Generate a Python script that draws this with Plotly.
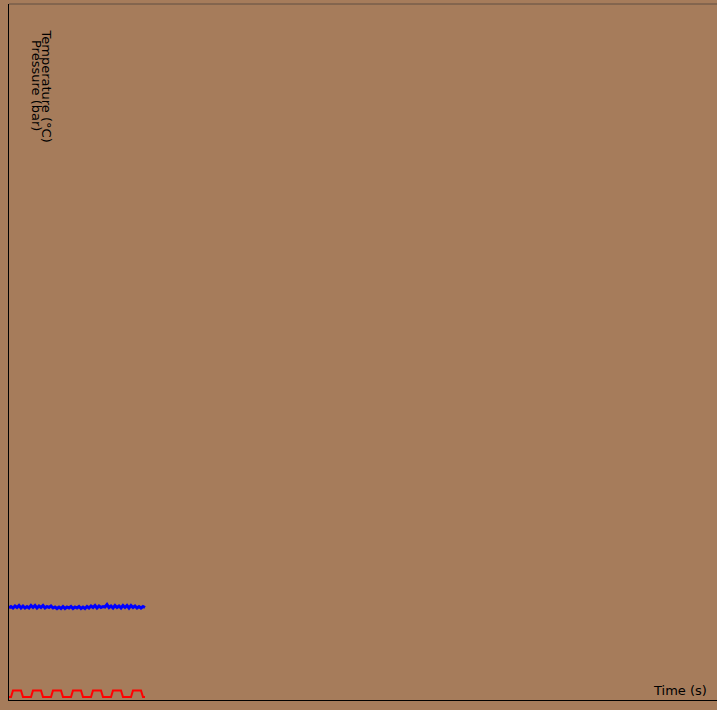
import plotly.graph_objects as go

time_s = [0.0, 0.1, 0.2, 0.3, 0.4, 0.5, 0.6, 0.7, 0.8, 0.9,
          1.0, 1.1, 1.2, 1.3, 1.4, 1.5, 1.6, 1.7, 1.8, 1.9,
          2.0, 2.1, 2.2, 2.3, 2.4, 2.5, 2.6, 2.7, 2.8, 2.9,
          3.0, 3.1, 3.2, 3.3, 3.4, 3.5, 3.6, 3.7, 3.8, 3.9,
          4.0, 4.1, 4.2, 4.3, 4.4, 4.5, 4.6, 4.7, 4.8, 4.9,
          5.0, 5.1, 5.2, 5.3, 5.4, 5.5, 5.6, 5.7, 5.8, 5.9,
          6.0, 6.1, 6.2, 6.3, 6.4, 6.5, 6.6, 6.7, 6.8]

pressure_bar = [9.20, 9.35, 9.20, 9.40, 9.25, 9.45, 9.20, 9.40, 9.20, 9.35,
                9.20, 9.45, 9.25, 9.45, 9.20, 9.40, 9.25, 9.45, 9.20, 9.35,
                9.25, 9.40, 9.20, 9.30, 9.15, 9.30, 9.15, 9.35, 9.15, 9.30,
                9.20, 9.35, 9.15, 9.30, 9.20, 9.35, 9.15, 9.30, 9.15, 9.35,
                9.20, 9.40, 9.25, 9.45, 9.20, 9.40, 9.25, 9.35, 9.30, 9.55,
                9.25, 9.40, 9.20, 9.45, 9.25, 9.40, 9.20, 9.45, 9.25, 9.45,
                9.20, 9.45, 9.25, 9.40, 9.20, 9.35, 9.20, 9.35, 9.25]

temperature_c = [0.30, 0.30, 0.95, 0.95, 0.95, 0.95, 0.95, 0.30, 0.30, 0.30,
                 0.30, 0.30, 0.95, 0.95, 0.95, 0.95, 0.95, 0.30, 0.30, 0.30,
                 0.30, 0.30, 0.95, 0.95, 0.95, 0.95, 0.95, 0.30, 0.30, 0.30,
                 0.30, 0.30, 0.95, 0.95, 0.95, 0.95, 0.95, 0.30, 0.30, 0.30,
                 0.30, 0.30, 0.95, 0.95, 0.95, 0.95, 0.95, 0.30, 0.30, 0.30,
                 0.30, 0.30, 0.95, 0.95, 0.95, 0.95, 0.95, 0.30, 0.30, 0.30,
                 0.30, 0.30, 0.95, 0.95, 0.95, 0.95, 0.95, 0.30, 0.30]

BG = "#a67c5b"
FONT = "DejaVu Sans"

fig = go.Figure()
fig.add_trace(go.Scatter(x=time_s, y=pressure_bar, mode="lines",
                         line=dict(color="#0000ff", width=3), name="Pressure (bar)",
                         showlegend=False))
fig.add_trace(go.Scatter(x=time_s, y=temperature_c, mode="lines",
                         line=dict(color="#ff0000", width=2), name="Temperature (°C)",
                         showlegend=False))

fig.update_layout(
    width=717, height=710,
    margin=dict(l=9, r=0, t=4, b=10),
    paper_bgcolor=BG, plot_bgcolor=BG,
    font=dict(family=FONT, size=13, color="#000"),
    xaxis=dict(range=[0, 35.4], showgrid=False, zeroline=False, showticklabels=False,
               ticks="", showline=True, linecolor="#000", linewidth=1.2),
    yaxis=dict(range=[0, 69.6], showgrid=False, zeroline=False, showticklabels=False,
               ticks="", showline=True, linecolor="#000", linewidth=1.2),
    shapes=[dict(type="line", xref="paper", yref="paper", x0=0, x1=1, y0=1, y1=1,
                 line=dict(color="rgba(70,60,55,0.7)", width=1))],
    annotations=[
        dict(text="Temperature (°C)", xref="paper", yref="paper",
             x=(46.5 - 9) / 708, y=1 - (86 - 4) / 696, xanchor="center", yanchor="middle",
             textangle=90, showarrow=False, font=dict(family=FONT, size=13, color="#000")),
        dict(text="Pressure (bar)", xref="paper", yref="paper",
             x=(37 - 9) / 708, y=1 - (85 - 4) / 696, xanchor="center", yanchor="middle",
             textangle=90, showarrow=False, font=dict(family=FONT, size=13, color="#000")),
        dict(text="Time (s)", xref="paper", yref="paper",
             x=(679.5 - 9) / 708, y=(700 - 690.5) / 696, xanchor="center", yanchor="middle",
             showarrow=False, font=dict(family=FONT, size=13, color="#000")),
    ],
)

fig.write_html("out.html")
